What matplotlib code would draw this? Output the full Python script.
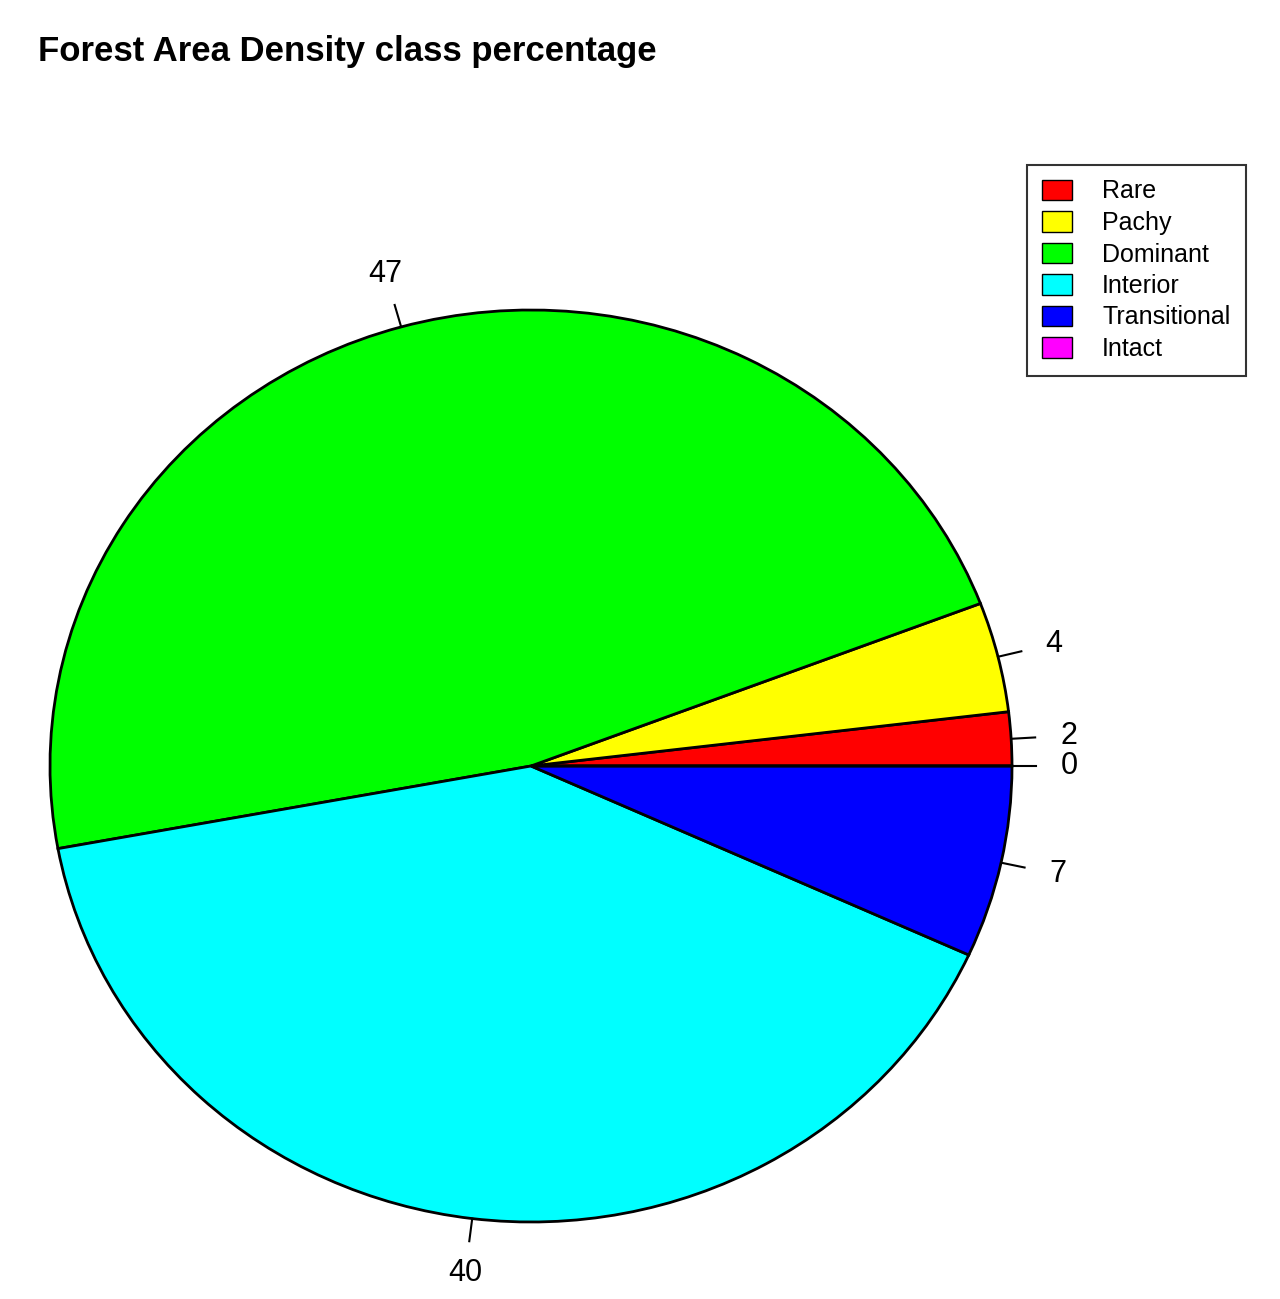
import matplotlib
matplotlib.use("Agg")
import matplotlib.pyplot as plt
import numpy as np
from matplotlib.patches import Patch

classes = ["Rare", "Pachy", "Dominant", "Interior", "Transitional", "Intact"]
shares = [1.9, 3.9, 47.1, 40.3, 6.8, 0.0]
labels = ["2", "4", "47", "40", "7", "0"]
colors = ["#ff0000", "#ffff00", "#00ff00", "#00ffff", "#0000ff", "#ff00ff"]

plt.rcParams["font.family"] = ["Liberation Sans", "DejaVu Sans"]
W, H = 1280, 1299
fig = plt.figure(figsize=(W / 100, H / 100), dpi=100)
ax = fig.add_axes([50 / W, (H - 1222) / H, 962 / W, 912 / H])
ax.set_xlim(-1, 1)
ax.set_ylim(-1, 1)
ax.set_aspect("auto")
ax.axis("off")

ax.pie(shares, colors=colors, startangle=0, counterclock=True, radius=1,
       wedgeprops=dict(edgecolor="black", linewidth=2), frame=True)
ax.set_xlim(-1, 1)
ax.set_ylim(-1, 1)
ax.set_aspect("auto")
ax.axis("off")

total = sum(shares)
start = 0.0
for s, lab in zip(shares, labels):
    mid = np.deg2rad(360 * (start + s / 2) / total)
    start += s
    c, sn = np.cos(mid), np.sin(mid)
    ax.plot([c, 1.05 * c], [sn, 1.05 * sn], color="black", lw=1.5, clip_on=False)
    ax.text(1.12 * c, 1.12 * sn, lab, ha="center", va="center", fontsize=22, clip_on=False)

fig.text(38 / W, 1 - 52 / H, "Forest Area Density class percentage",
         fontsize=25, fontweight="bold", ha="left", va="center")

handles = [Patch(facecolor=col, edgecolor="black", label=c) for c, col in zip(classes, colors)]
fig.legend(handles=handles, loc="upper right", bbox_to_anchor=(1258 / W, 1 - 152 / H),
           fontsize=18, frameon=True, fancybox=False, edgecolor="black",
           handlelength=1.2, handleheight=0.9, labelspacing=0.3, borderpad=0.6,
           handletextpad=1.2).get_frame().set_linewidth(1.5)

fig.savefig("out.png", dpi=100)
